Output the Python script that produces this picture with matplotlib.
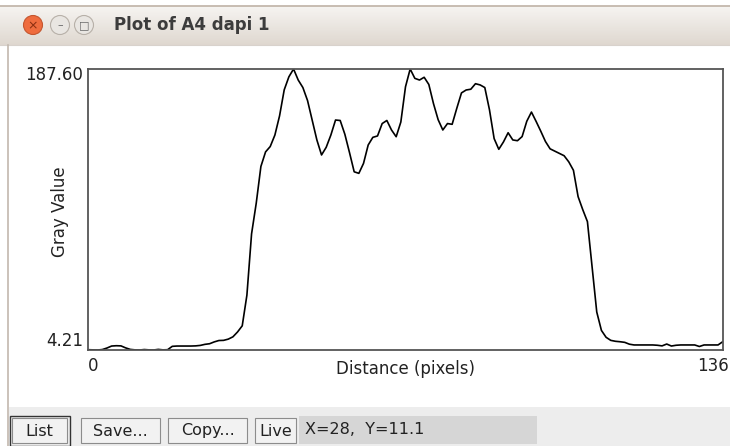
import numpy as np
import matplotlib
matplotlib.use("Agg")
import matplotlib.pyplot as plt
from matplotlib.patches import Rectangle, Circle

# --- profile data (gray value per pixel along the line) ---
distance = np.arange(137)
gray_value = [
    4.4, 4.3, 4.21, 4.5, 5.5, 6.8, 7.0, 6.9, 5.6, 4.6,
    4.3, 4.21, 4.5, 4.3, 4.21, 4.6, 4.3, 4.4, 6.6, 6.8,
    6.8, 6.8, 6.8, 6.9, 7.2, 7.9, 8.3, 9.5, 10.4, 10.5,
    11.3, 12.8, 16.0, 20.0, 40.0, 80.0, 100.0, 124.0, 133.5, 137.0,
    144.5, 157.0, 174.0, 182.5, 187.6, 180.4, 175.5, 167.0, 154.0, 141.3,
    131.5, 136.5, 144.5, 154.3, 154.0, 145.0, 133.0, 120.5, 119.5, 126.0,
    138.0, 143.0, 143.9, 152.0, 154.0, 147.8, 143.4, 153.0, 176.0, 187.6,
    181.5, 180.4, 182.2, 177.5, 165.0, 154.5, 147.8, 152.0, 151.5, 162.0,
    172.0, 173.9, 174.4, 178.0, 177.2, 175.5, 161.0, 142.2, 135.2, 140.0,
    146.0, 141.3, 140.8, 143.5, 153.5, 159.5, 153.4, 147.0, 140.3, 135.5,
    134.0, 132.5, 131.0, 127.0, 121.5, 104.3, 95.8, 88.0, 58.6, 29.0,
    17.0, 12.5, 10.5, 9.9, 9.6, 9.2, 8.0, 7.5, 7.5, 7.5,
    7.5, 7.5, 7.3, 6.9, 8.1, 6.8, 7.3, 7.5, 7.5, 7.5,
    7.5, 6.5, 7.5, 7.5, 7.5, 7.5, 9.6,
]
x_ticks = [0, 136]
y_ticks = [4.21, 187.60]
window_title = "Plot of A4 dapi 1"
buttons = ["List", "Save...", "Copy...", "Live"]
status_text = "X=28,  Y=11.1"

W, H = 730, 446
fig = plt.figure(figsize=(W / 100, H / 100), dpi=100)
fig.patch.set_facecolor("white")

# background axes in pixel coordinates for the window chrome
bg = fig.add_axes([0, 0, 1, 1])
bg.set_xlim(0, W)
bg.set_ylim(H, 0)
bg.axis("off")

# title bar gradient
grad = np.linspace(0, 1, 40).reshape(-1, 1)
top_c = np.array([0.965, 0.957, 0.945])
bot_c = np.array([0.875, 0.847, 0.816])
img = top_c + (bot_c - top_c) * grad[..., None]
bg.imshow(img, extent=[0, W, 45, 6], aspect="auto", zorder=0)
bg.plot([0, W], [6, 6], color="#bfb2a6", lw=1.2)
bg.plot([0, W], [45, 45], color="#d8d2cc", lw=0.8)

# window buttons
bg.add_patch(Circle((33, 25), 9.5, facecolor="#ef6c3e", edgecolor="#c4562f", lw=0.8))
bg.text(33, 25.5, "×", ha="center", va="center", fontsize=9, color="#8a2e10")
for cx, sym in [(60, "–"), (84, "□")]:
    bg.add_patch(Circle((cx, 25), 9.5, facecolor="#e9e6e2", edgecolor="#b7b0a8", lw=0.8))
    bg.text(cx, 25, sym, ha="center", va="center", fontsize=8, color="#666666")
bg.text(114, 25.5, window_title, ha="left", va="center", fontsize=12,
        fontweight="bold", color="#3c3c3c")

# left window border
bg.plot([8, 8], [45, H], color="#c2b8ae", lw=1.2)

# bottom panel
bg.add_patch(Rectangle((9, 407), W - 9, H - 407, facecolor="#ededed", edgecolor="none"))

# buttons
btn_x = [(12, 67), (81, 160), (168, 247), (255, 296)]
for (x0, x1), label in zip(btn_x, buttons):
    bg.add_patch(Rectangle((x0, 418), x1 - x0, 25, facecolor="#f2f2f2",
                           edgecolor="#8c8c8c", lw=0.8))
    bg.text((x0 + x1) / 2, 431, label, ha="center", va="center",
            fontsize=11.5, color="#222222")
# focused List button outer border
bg.add_patch(Rectangle((9.5, 415.5), 60, 30, facecolor="none", edgecolor="#333333", lw=1.0))

bg.add_patch(Rectangle((299, 416), 238, 28, facecolor="#d6d6d6", edgecolor="none"))
bg.text(305, 430, status_text, ha="left", va="center", fontsize=11.5, color="#222222")

# plot axes
left, right, top, bottom = 88.3, 722.7, 69, 350
ax = fig.add_axes([left / W, (H - bottom) / H, (right - left) / W, (bottom - top) / H])
ax.plot(distance, gray_value, color="black", lw=1.2, clip_on=True)
ax.set_xlim(x_ticks[0], x_ticks[1])
ax.set_ylim(y_ticks[0], y_ticks[1])
ax.set_xticks([])
ax.set_yticks([])
for s in ax.spines.values():
    s.set_color("#555555")
    s.set_linewidth(1.3)

# axis labels (ImageJ style)
lab = dict(fontsize=12, color="#222222")
bg.text(83, 75, f"{y_ticks[1]:.2f}", ha="right", va="center", **lab)
bg.text(83, 341, f"{y_ticks[0]:.2f}", ha="right", va="center", **lab)
bg.text(93, 366, str(x_ticks[0]), ha="center", va="center", **lab)
bg.text(729, 366, str(x_ticks[1]), ha="right", va="center", **lab)
bg.text(405, 369, "Distance (pixels)", ha="center", va="center", **lab)
bg.text(60, 212, "Gray Value", ha="center", va="center", rotation=90, **lab)

fig.savefig("out.png", dpi=100)
